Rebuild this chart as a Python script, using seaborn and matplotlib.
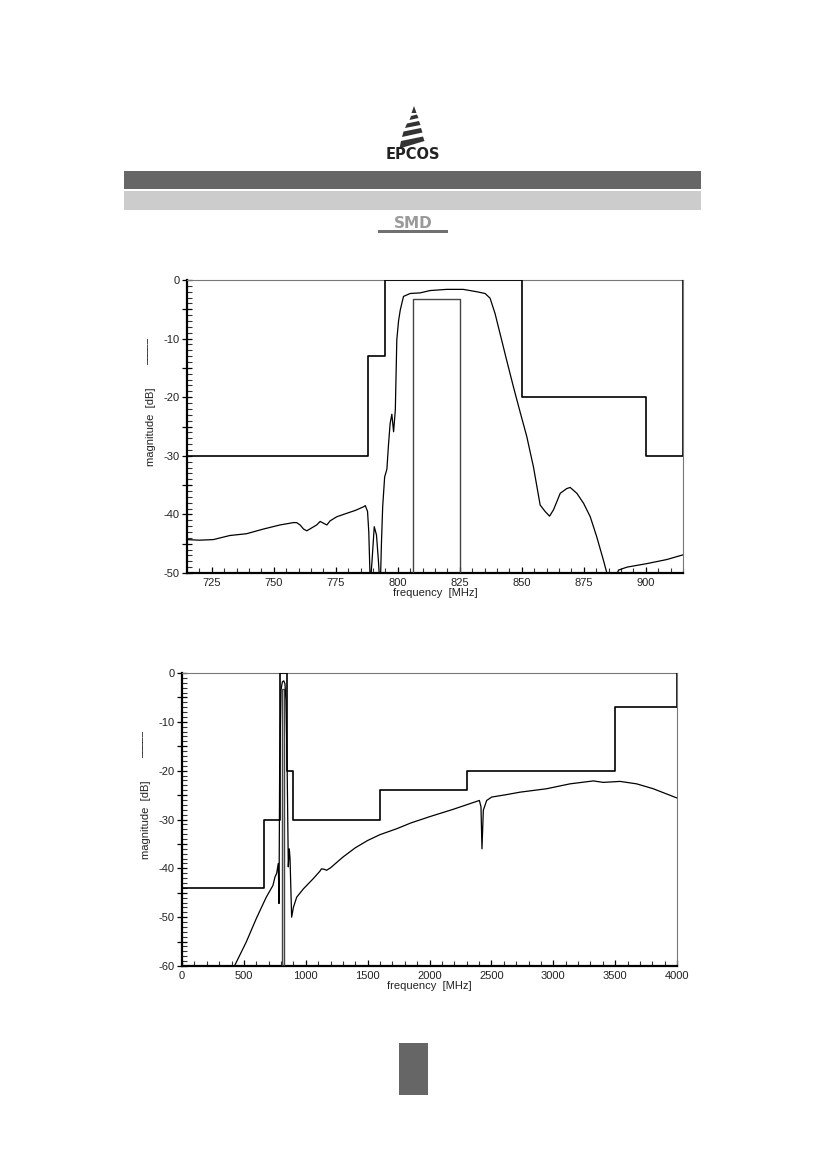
import numpy as np
import pandas as pd
import matplotlib
matplotlib.use("Agg")
import matplotlib.pyplot as plt
from matplotlib.patches import Rectangle, Polygon
from matplotlib.ticker import MultipleLocator, FuncFormatter
import seaborn as sns

# ---------------- data ----------------
# narrow-band response (MHz, dB)
resp1_f = [715, 720, 725.6, 732.3, 739, 745.8, 752.5, 757.9, 759.2, 760.6, 762, 763.3, 765.3,
           767.3, 768.7, 770, 771.4, 772.7, 775.4, 779.5, 783, 786.2, 786.9, 787.8, 788.3, 788.9,
           789.6, 790.5, 791.4, 792.2, 792.9, 793.4, 793.9, 794.7, 795.6, 796.2, 796.9, 797.6,
           798.3, 799.0, 799.6, 800.3, 801, 802.3, 805, 809, 813, 819.7, 826.4, 831.8, 835.2,
           837.2, 839.2, 841.2, 843.9, 846.6, 849.3, 852, 854.7, 857.4, 859.4, 861.2, 862.8,
           865.5, 868.1, 869.5, 872.2, 874.9, 877.6, 880.2, 882.9, 884.3, 885.5, 887.6, 889,
           892.4, 900.4, 908.5, 915]
resp1_db = [-44.3, -44.4, -44.3, -43.6, -43.3, -42.5, -41.8, -41.4, -41.4, -41.8, -42.5, -42.8,
            -42.3, -41.8, -41.2, -41.5, -41.8, -41.1, -40.4, -39.8, -39.3, -38.7, -38.5, -39.5,
            -43, -52, -48, -42.1, -43.5, -48, -53, -45, -38.7, -33.6, -32.3, -28.4, -24.5, -22.9,
            -25.9, -22.2, -10.2, -7, -5.1, -2.8, -2.3, -2.2, -1.8, -1.6, -1.6, -2.0, -2.3, -3.1,
            -5.7, -9.1, -13.7, -18.2, -22.5, -26.7, -31.9, -38.4, -39.5, -40.3, -39.2, -36.4,
            -35.6, -35.4, -36.4, -38.1, -40.4, -43.8, -47.8, -50, -52, -51, -49.5, -49, -48.4,
            -47.7, -46.9]

# wide-band response (MHz, dB)
resp2_f = [400, 424, 519, 600, 681, 735, 751, 765, 778, 784, 789, 795, 800, 811, 822, 832, 840,
           850, 859, 867, 873, 886, 900, 927, 981, 1061, 1114, 1127, 1150, 1168, 1200, 1250,
           1300, 1400, 1500, 1600, 1734, 1850, 2004, 2193, 2403, 2416, 2424, 2435, 2462, 2503,
           2624, 2732, 2947, 3135, 3324, 3405, 3540, 3674, 3808, 4000]
resp2_db = [-61.5, -60, -55.1, -50.3, -45.9, -43.5, -41.8, -41, -39, -47.2, -20, -11, -3.5, -1.8,
            -1.6, -2.2, -5.6, -20, -39.7, -36, -38, -50, -48, -45.9, -44.2, -42.1, -40.6, -40.1,
            -40.2, -40.4, -39.9, -38.8, -37.7, -35.8, -34.3, -33.1, -31.9, -30.7, -29.4, -27.9,
            -26.1, -27.4, -36, -28.1, -26.1, -25.4, -24.9, -24.4, -23.7, -22.7, -22.1, -22.4,
            -22.2, -22.7, -23.7, -25.6]

# attenuation limit masks: band edges (MHz) and level for each band (dB)
mask1_edges = [715, 788, 795, 850, 900, 915]
mask1_levels = [-30, -13, 0, -20, -30]
mask2_edges = [0, 665, 788, 795, 850, 900, 1600, 2300, 3500, 4000]
mask2_levels = [-44, -30, -13, 0, -20, -30, -24, -20, -7]
mask_close_level = 0

# passband insertion-loss spec
pass_f = [806, 825]
pass_il = -3.3

x1_ticks = [725, 750, 775, 800, 825, 850, 875, 900]
x2_ticks = [0, 500, 1000, 1500, 2000, 2500, 3000, 3500, 4000]


def mask_path(edges, levels, close):
    xs, ys = [], []
    for i, lv in enumerate(levels):
        xs += [edges[i], edges[i + 1]]
        ys += [lv, lv]
    xs.append(edges[-1])
    ys.append(close)
    return pd.DataFrame({"f": xs, "db": ys})


def pass_path(f, il, bottom):
    return pd.DataFrame({"f": [f[0], f[0], f[1], f[1]], "db": [bottom, il, il, bottom]})


# ---------------- style ----------------
sns.set_theme(style="white")
plt.rcParams["font.family"] = ["Liberation Sans Narrow", "Liberation Sans", "DejaVu Sans"]
plt.rcParams["axes.unicode_minus"] = False

fig = plt.figure(figsize=(8.26, 11.69), dpi=100)

# page decoration layer (pixel coordinates)
bg = fig.add_axes([0, 0, 1, 1], zorder=-5)
bg.set_xlim(0, 826)
bg.set_ylim(1169, 0)
bg.axis("off")
bg.add_patch(Rectangle((124, 171), 577, 17.5, color="#666666", lw=0))
bg.add_patch(Rectangle((124, 191), 577, 19, color="#cccccc", lw=0))
bg.add_patch(Rectangle((399, 1043), 29, 52, color="#666666", lw=0))
# EPCOS logo
logo = [
    [(414, 106), (411.5, 113), (416.5, 113)],
    [(411, 116), (417, 114.5), (418.5, 118), (409.5, 120)],
    [(407, 123.5), (419, 121), (420.5, 125), (405, 128)],
    [(403.5, 131.5), (421, 128), (422.5, 132.5), (402, 137)],
    [(401, 141), (423, 136.5), (424.5, 141), (399.5, 148.5)],
]
for pts in logo:
    bg.add_patch(Polygon(pts, closed=True, color="#333333", lw=0))
bg.text(413, 154.5, "EPCOS", ha="center", va="center", fontsize=10.5, fontweight="bold",
        color="#222222", family=["DejaVu Sans"])
# SMD logo
bg.text(413, 223.5, "SMD", ha="center", va="center", fontsize=11, fontweight="bold",
        color="#9a9a9a", family=["DejaVu Sans"], fontstretch="expanded")
bg.add_patch(Rectangle((378, 229.5), 70, 3, color="#707070", lw=0))

ax1 = fig.add_axes([187 / 826, 1 - 573 / 1169, 496 / 826, 293 / 1169])
ax2 = fig.add_axes([182 / 826, 1 - 966 / 1169, 495 / 826, 293 / 1169])


def style_axes(ax, xlim, ylim, xmin, xticks):
    ax.set_xlim(*xlim)
    ax.set_ylim(*ylim)
    ax.set_xticks(xticks)
    ax.xaxis.set_minor_locator(MultipleLocator(xmin))
    ax.yaxis.set_major_locator(MultipleLocator(5))
    ax.yaxis.set_minor_locator(MultipleLocator(1))
    ax.yaxis.set_major_formatter(FuncFormatter(
        lambda v, p: f"{int(round(v))}" if abs(round(v)) % 10 == 0 else ""))
    ax.xaxis.set_major_formatter(FuncFormatter(lambda v, p: f"{int(round(v))}"))
    for s in ["left", "bottom"]:
        ax.spines[s].set_color("black")
        ax.spines[s].set_linewidth(1.6)
    for s in ["top", "right"]:
        ax.spines[s].set_color("#777777")
        ax.spines[s].set_linewidth(0.8)
    ax.tick_params(axis="both", which="major", direction="inout", length=7, width=0.9,
                   color="black", labelsize=8, labelcolor="#222222", pad=2)
    ax.tick_params(axis="both", which="minor", direction="in", length=3.5, width=0.8,
                   color="#333333")
    ax.tick_params(axis="x", which="major", direction="in", length=4.5, pad=3.5)
    ax.tick_params(left=True, bottom=True, top=False, right=False)
    ax.tick_params(which="minor", left=True, bottom=True, top=False, right=False)
    ax.grid(False)
    ax.set_xlabel("frequency  [MHz]", fontsize=8, color="#222222", labelpad=0)
    ax.set_ylabel("magnitude  [dB]", fontsize=8, color="#222222", labelpad=5)
    ax.text(-0.075, 0.755, "─────", transform=ax.transAxes, rotation=90, ha="center",
            va="center", fontsize=6.5, color="#222222", family=["DejaVu Sans"])


def draw(ax, f, db, edges, levels, ylim):
    sns.lineplot(data=mask_path(edges, levels, mask_close_level), x="f", y="db", ax=ax,
                 sort=False, estimator=None, color="black", lw=1.2, zorder=4)
    sns.lineplot(data=pass_path(pass_f, pass_il, ylim[0]), x="f", y="db", ax=ax, sort=False,
                 estimator=None, color="#444444", lw=1.0, zorder=3)
    sns.lineplot(x=f, y=db, ax=ax, sort=False, estimator=None, color="black", lw=0.9, zorder=5)


draw(ax1, resp1_f, resp1_db, mask1_edges, mask1_levels, (-50, 0))
style_axes(ax1, (715, 915), (-50, 0), 5, x1_ticks)

draw(ax2, resp2_f, resp2_db, mask2_edges, mask2_levels, (-60, 0))
style_axes(ax2, (0, 4000), (-60, 0), 100, x2_ticks)

fig.savefig("out.png", dpi=100)
